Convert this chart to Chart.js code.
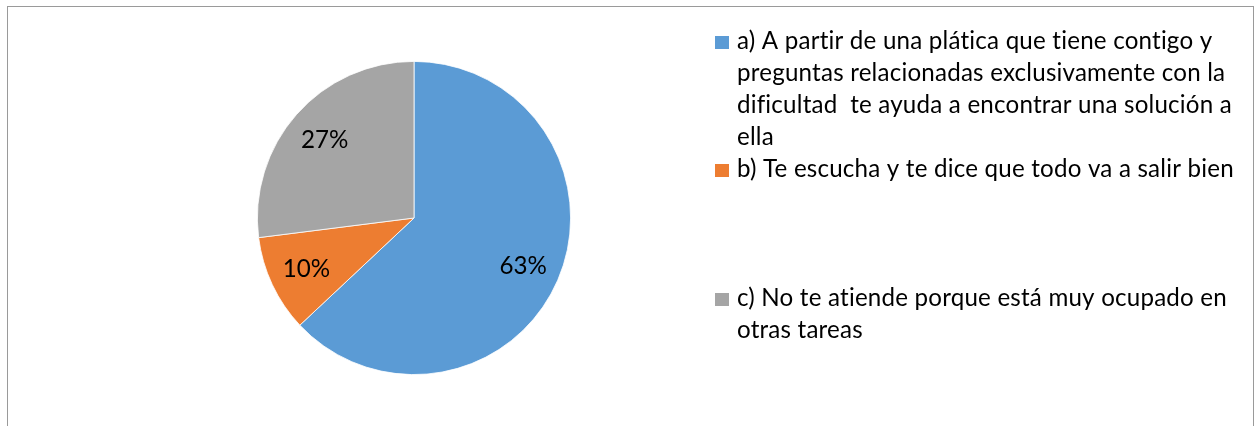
<!DOCTYPE html>
<html><head><meta charset="utf-8">
<script src="https://cdn.jsdelivr.net/npm/chart.js@4.4.0/dist/chart.umd.min.js"></script>
<style>
html,body{margin:0;padding:0;background:#fff;}
body{width:1259px;height:426px;overflow:hidden;position:relative;}
#frame{position:absolute;left:7px;top:6px;width:1247px;height:460px;border:1px solid #9a9a9a;box-sizing:border-box;}
#wrap{position:absolute;left:0;top:0;width:1259px;height:426px;}
</style></head>
<body>
<div id="frame"></div>
<div id="wrap"><canvas id="c"></canvas></div>
<script>
const categories = [
  'a) A partir de una plática que tiene contigo y preguntas relacionadas exclusivamente con la dificultad  te ayuda a encontrar una solución a ella',
  'b) Te escucha y te dice que todo va a salir bien',
  'c) No te atiende porque está muy ocupado en otras tareas'
];
const values = [63, 10, 27];
const colors = ['#5B9BD5', '#ED7D31', '#A5A5A5'];
const legendLines = [
  ['a) A partir de una plática que tiene contigo y', 'preguntas relacionadas exclusivamente con la', 'dificultad  te ayuda a encontrar una solución a', 'ella'],
  ['b) Te escucha y te dice que todo va a salir bien'],
  ['c) No te atiende porque está muy ocupado en', 'otras tareas']
];

const FONT_FAMILY = 'Lato, "Open Sans", sans-serif';
const SPACING = '0.2px';
let fontSize = null;
function fitFont(ctx){
  if (fontSize) return fontSize;
  ctx.save();
  ctx.letterSpacing = SPACING;
  ctx.font = '20px ' + FONT_FAMILY;
  const w = ctx.measureText(legendLines[1][0]).width;
  ctx.restore();
  fontSize = 20 * 499 / w;
  return fontSize;
}

const legendPlugin = {
  id: 'sideLegend',
  afterDraw(chart){
    const ctx = chart.ctx;
    const fs = fitFont(ctx);
    const baselines = [49, 177, 306];
    const lineH = 32;
    ctx.save();
    ctx.letterSpacing = SPACING;
    ctx.font = fs.toFixed(2) + 'px ' + FONT_FAMILY;
    ctx.textBaseline = 'alphabetic';
    ctx.textAlign = 'left';
    legendLines.forEach((lines, i) => {
      const b = baselines[i];
      ctx.fillStyle = colors[i];
      ctx.fillRect(715, b - 13, 14, 13);
      ctx.fillStyle = '#000';
      lines.forEach((t, j) => ctx.fillText(t, 737, b + j * lineH));
    });
    ctx.restore();
  },
  afterDatasetsDraw(chart){
    const ctx = chart.ctx;
    const fs = fitFont(ctx);
    const meta = chart.getDatasetMeta(0);
    ctx.save();
    ctx.font = fs.toFixed(2) + 'px ' + FONT_FAMILY;
    ctx.fillStyle = '#000';
    ctx.textAlign = 'center';
    ctx.textBaseline = 'middle';
    meta.data.forEach((arc, i) => {
      const p = arc.getProps(['x','y','startAngle','endAngle','outerRadius'], true);
      const mid = (p.startAngle + p.endAngle) / 2;
      const r = p.outerRadius * 0.76;
      ctx.fillText(values[i] + '%', p.x + Math.cos(mid) * r, p.y + Math.sin(mid) * r + 1);
    });
    ctx.restore();
  }
};

new Chart(document.getElementById('c'), {
  type: 'pie',
  data: {
    labels: categories,
    datasets: [{
      data: values,
      backgroundColor: colors,
      borderColor: '#ffffff',
      borderWidth: 0.8
    }]
  },
  options: {
    responsive: true,
    maintainAspectRatio: false,
    animation: false,
    rotation: 0,
    layout: { padding: { left: 257, right: 688, top: 61, bottom: 51 } },
    plugins: {
      legend: { display: false },
      tooltip: { enabled: false }
    }
  },
  plugins: [legendPlugin]
});
</script>
</body></html>
